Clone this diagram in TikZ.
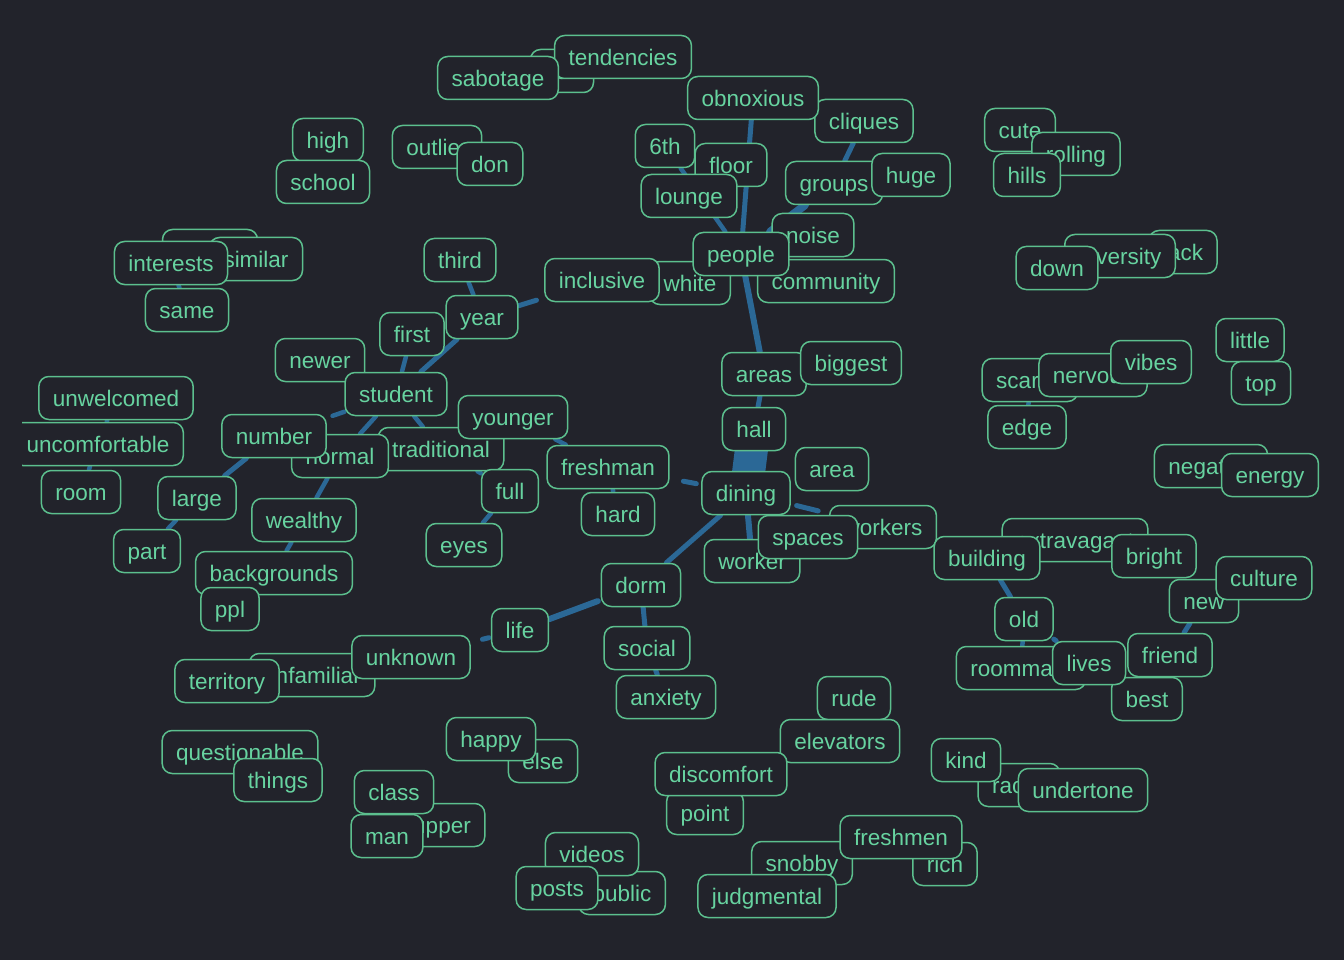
\documentclass[tikz,border=0pt]{standalone}
\usepackage{fontspec}
\setmainfont{Liberation Sans}
\definecolor{bgc}{HTML}{22232B}
\definecolor{nborder}{HTML}{5CBF8E}
\definecolor{ntext}{HTML}{67D3A0}
\definecolor{edgec}{HTML}{2B6896}
\pgfdeclarelayer{backlayer}
\pgfdeclarelayer{edgelayer}
\pgfsetlayers{backlayer,edgelayer,main}
\tikzset{
  wnode/.style={draw=nborder, line width=1.5pt, fill=bgc, rounded corners=10pt,
    inner xsep=14pt, inner ysep=0pt, minimum height=43pt, text=ntext,
    font=\fontsize{22.5pt}{26pt}\selectfont, text height=19pt, text depth=2pt},
  wedge/.style={draw=edgec, line width=#1, line cap=round},
  wedge/.default=4.5pt
}
\begin{document}
\begin{tikzpicture}[x=1pt,y=-1pt]
\useasboundingbox (0,0) rectangle (1344,960);
\begin{pgfonlayer}{backlayer}
\fill[bgc] (0,0) rectangle (1344,960);
\end{pgfonlayer}
\clip (22,0) rectangle (1344,960);
% nodes
\node[wnode] (self) at (562,71) {self};
\node[wnode] (tendencies) at (623,57) {tendencies};
\node[wnode] (sabotage) at (498,78) {sabotage};
\node[wnode] (cliques) at (864,121) {cliques};
\node[wnode] (obnoxious) at (753,98) {obnoxious};
\node[wnode] (sixth) at (665,146) {6th};
\node[wnode] (floor) at (731,165) {floor};
\node[wnode] (lounge) at (689,196) {lounge};
\node[wnode] (groups) at (834,183) {groups};
\node[wnode] (huge) at (911,175) {huge};
\node[wnode] (noise) at (813,235) {noise};
\node[wnode] (white) at (690,283) {white};
\node[wnode] (community) at (826,281) {community};
\node[wnode] (people) at (741,254) {people};
\node[wnode] (inclusive) at (602,280) {inclusive};
\node[wnode] (high) at (328,140) {high};
\node[wnode] (school) at (323,182) {school};
\node[wnode] (outlier) at (437,147) {outlier};
\node[wnode] (don) at (490,164) {don};
\node[wnode] (cute) at (1020,130) {cute};
\node[wnode] (rolling) at (1076,154) {rolling};
\node[wnode] (hills) at (1027,175) {hills};
\node[wnode] (lack) at (1183,252) {lack};
\node[wnode] (diversity) at (1120,256) {diversity};
\node[wnode] (down) at (1057,268) {down};
\node[wnode, minimum width=95pt] (shared) at (210,251) {};
\node[wnode] (similar) at (256,259) {similar};
\node[wnode] (interests) at (171,263) {interests};
\node[wnode] (same) at (187,310) {same};
\node[wnode] (third) at (460,260) {third};
\node[wnode] (year) at (482,317) {year};
\node[wnode] (first) at (412,334) {first};
\node[wnode] (newer) at (320,360) {newer};
\node[wnode] (student) at (396,394) {student};
\node[wnode] (unwelcomed) at (116,398) {unwelcomed};
\node[wnode] (uncomfortable) at (98,444) {uncomfortable};
\node[wnode] (room) at (81,492) {room};
\node[wnode] (traditional) at (441,449) {traditional};
\node[wnode] (normal) at (340,456) {normal};
\node[wnode] (number) at (274,436) {number};
\node[wnode] (younger) at (513,417) {younger};
\node[wnode] (full) at (510,491) {full};
\node[wnode] (eyes) at (464,545) {eyes};
\node[wnode] (freshman) at (608,467) {freshman};
\node[wnode] (hard) at (618,514) {hard};
\node[wnode] (large) at (197,498) {large};
\node[wnode] (part) at (147,551) {part};
\node[wnode] (wealthy) at (304,520) {wealthy};
\node[wnode] (backgrounds) at (274,573) {backgrounds};
\node[wnode] (ppl) at (230,609) {ppl};
\node[wnode] (areas) at (764,374) {areas};
\node[wnode] (biggest) at (851,363) {biggest};
\node[wnode] (hall) at (754,429) {hall};
\node[wnode] (area) at (832,469) {area};
\node[wnode] (dining) at (746,493) {dining};
\node[wnode] (workers) at (883,527) {workers};
\node[wnode] (worker) at (752,561) {worker};
\node[wnode] (spaces) at (808,537) {spaces};
\node[wnode] (dorm) at (641,585) {dorm};
\node[wnode] (life) at (520,630) {life};
\node[wnode] (social) at (647,648) {social};
\node[wnode] (anxiety) at (666,697) {anxiety};
\node[wnode] (unfamiliar) at (312,675) {unfamiliar};
\node[wnode] (unknown) at (411,657) {unknown};
\node[wnode] (territory) at (227,681) {territory};
\node[wnode] (questionable) at (240,752) {questionable};
\node[wnode] (things) at (278,780) {things};
\node[wnode] (else) at (543,761) {else};
\node[wnode] (happy) at (491,739) {happy};
\node[wnode] (upper) at (442,825) {upper};
\node[wnode] (class) at (394,792) {class};
\node[wnode] (man) at (387,836) {man};
\node[wnode] (public) at (622,893) {public};
\node[wnode] (videos) at (592,854) {videos};
\node[wnode] (posts) at (557,888) {posts};
\node[wnode] (rude) at (854,698) {rude};
\node[wnode] (point) at (705,813) {point};
\node[wnode] (elevators) at (840,741) {elevators};
\node[wnode] (discomfort) at (721,774) {discomfort};
\node[wnode] (racial) at (1019,785) {racial};
\node[wnode] (kind) at (966,760) {kind};
\node[wnode] (undertone) at (1083,790) {undertone};
\node[wnode] (rich) at (945,864) {rich};
\node[wnode] (snobby) at (802,863) {snobby};
\node[wnode] (freshmen) at (901,837) {freshmen};
\node[wnode] (judgmental) at (767,896) {judgmental};
\node[wnode] (little) at (1250,340) {little};
\node[wnode] (top) at (1261,383) {top};
\node[wnode] (scared) at (1030,380) {scared};
\node[wnode] (nervous) at (1093,375) {nervous};
\node[wnode] (vibes) at (1151,362) {vibes};
\node[wnode] (edge) at (1027,427) {edge};
\node[wnode] (negative) at (1211,466) {negative};
\node[wnode] (energy) at (1270,475) {energy};
\node[wnode] (extravagant) at (1075,540) {extravagant};
\node[wnode] (building) at (987,558) {building};
\node[wnode] (bright) at (1154,556) {bright};
\node[wnode] (new) at (1204,601) {new};
\node[wnode] (culture) at (1264,578) {culture};
\node[wnode] (old) at (1024,619) {old};
\node[wnode] (roommate) at (1021,668) {roommate};
\node[wnode] (best) at (1147,699) {best};
\node[wnode] (lives) at (1089,663) {lives};
\node[wnode] (friend) at (1170,655) {friend};
% edges, beneath the nodes
\begin{pgfonlayer}{edgelayer}
\draw[wedge=5pt] (obnoxious) -- (people);
\draw[wedge] (sixth) -- (people);
\draw[wedge=5pt] (cliques) -- (groups);
\draw[wedge=8pt] (groups) -- (people);
\draw[wedge=6pt] (people) -- (areas);
\draw[wedge=5pt] (areas) -- (hall);
\draw[draw=edgec, line width=33pt] (hall.center) -- (dining.center);
\draw[wedge=5pt, shorten <=14pt, shorten >=5pt] (freshman) -- (dining);
\draw[wedge=5pt, shorten <=6pt, shorten >=11pt] (dining) -- (workers);
\draw[wedge=6pt] (dining) -- (worker);
\draw[wedge=5pt] (dining) -- (dorm);
\draw[wedge=6pt, shorten <=3pt] (dorm) -- (life);
\draw[wedge=5pt, shorten <=2pt, shorten >=12pt] (life) -- (unknown);
\draw[wedge=5pt] (dorm) -- (social);
\draw[wedge=5pt] (social) -- (anxiety);
\draw[wedge=5pt, shorten <=8pt] (inclusive) -- (year);
\draw[wedge] (year) -- (third);
\draw[wedge=5pt] (year) -- (student);
\draw[wedge] (first) -- (student);
\draw[wedge] (student) -- (normal);
\draw[wedge] (student) -- (traditional);
\draw[wedge, shorten >=6pt] (student) -- (number);
\draw[wedge=5pt] (number) -- (large);
\draw[wedge] (large) -- (part);
\draw[wedge] (normal) -- (wealthy);
\draw[wedge] (wealthy) -- (backgrounds);
\draw[wedge] (traditional) -- (full);
\draw[wedge] (full) -- (eyes);
\draw[wedge] (younger) -- (freshman);
\draw[wedge] (freshman) -- (hard);
\draw[wedge] (interests) -- (same);
\draw[wedge] (unwelcomed) -- (uncomfortable);
\draw[wedge] (uncomfortable) -- (room);
\draw[wedge] (scared) -- (edge);
\draw[wedge=5pt] (building) -- (old);
\draw[wedge] (old) -- (roommate);
\draw[wedge=5pt] (old) -- (lives);
\draw[wedge=5pt] (new) -- (friend);
\end{pgfonlayer}
\end{tikzpicture}
\end{document}
